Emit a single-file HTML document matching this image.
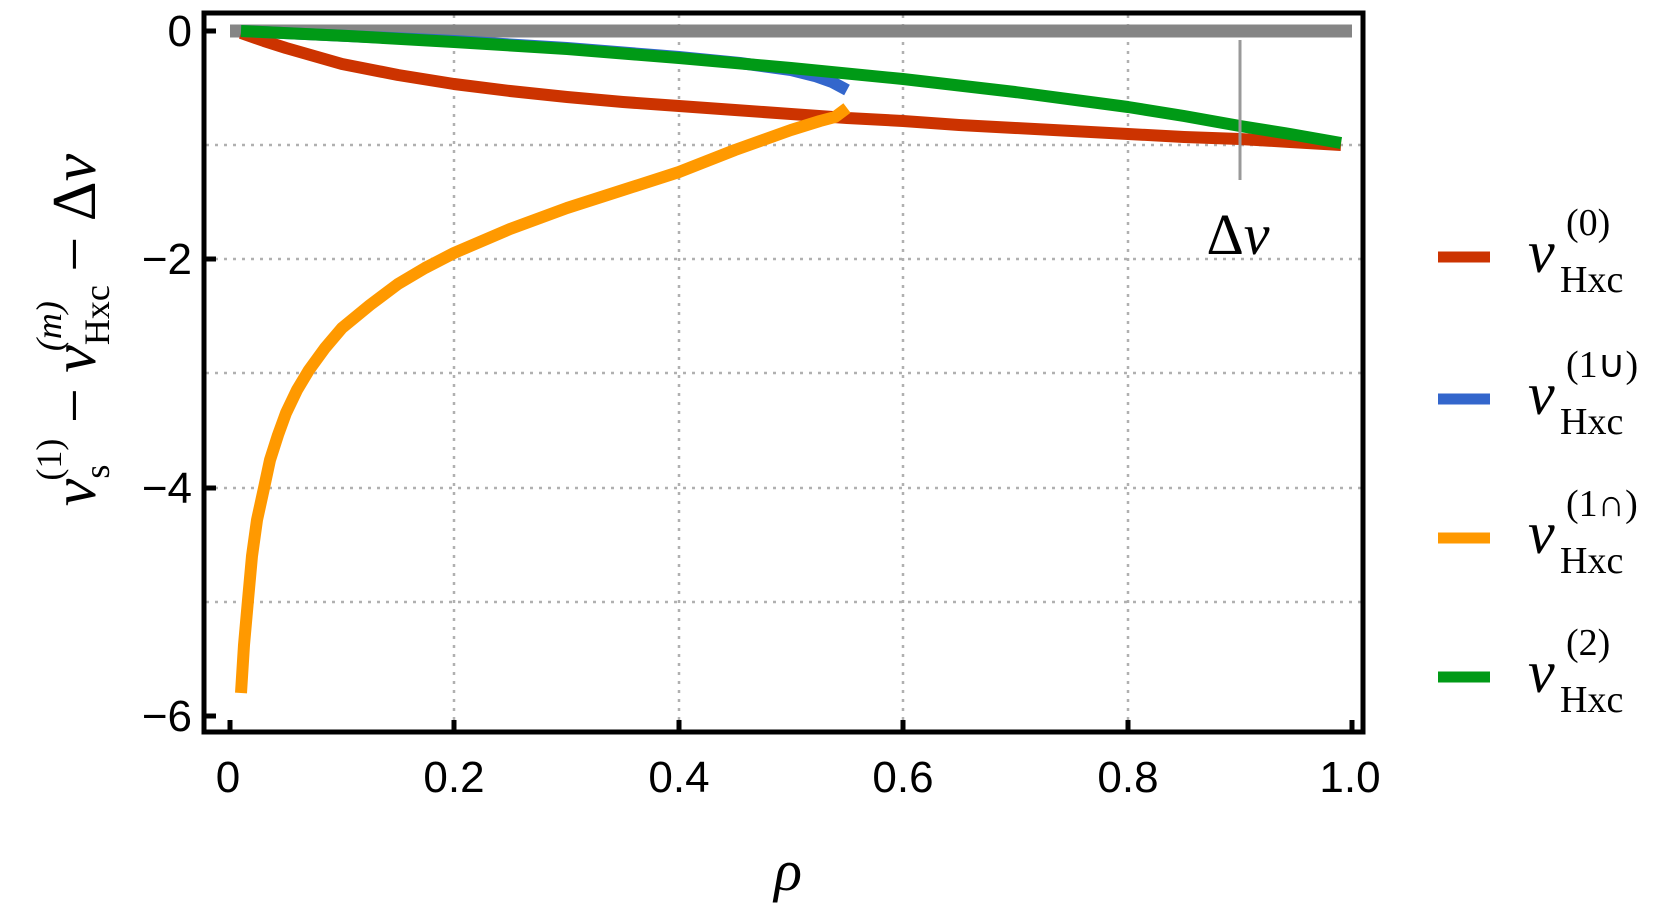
<!DOCTYPE html>
<html><head><meta charset="utf-8"><style>
html,body{margin:0;padding:0;background:#fff;}
svg{display:block}
.t{font-family:"Liberation Sans",sans-serif;font-size:44px;fill:#000}
.m{font-family:"Liberation Serif",serif;fill:#000}
</style></head><body>
<svg width="1661" height="914" viewBox="0 0 1661 914" xmlns="http://www.w3.org/2000/svg">
<g stroke="#b0b0b0" stroke-width="2.5" stroke-dasharray="3,6" fill="none">
<line x1="454" y1="15" x2="454" y2="730"/><line x1="679" y1="15" x2="679" y2="730"/>
<line x1="903" y1="15" x2="903" y2="730"/><line x1="1128" y1="15" x2="1128" y2="730"/>
<line x1="206" y1="145" x2="1361" y2="145"/><line x1="206" y1="259" x2="1361" y2="259"/>
<line x1="206" y1="373" x2="1361" y2="373"/><line x1="206" y1="488" x2="1361" y2="488"/>
<line x1="206" y1="602" x2="1361" y2="602"/>
</g>
<line x1="230" y1="31" x2="1352" y2="31" stroke="#858585" stroke-width="13"/>
<g fill="none" stroke-width="12" stroke-linejoin="round" stroke-linecap="butt">
<polyline stroke="#cc3300" points="241,33 264,41 286,48 314,56 342,64 398,75 454,84 510,91 567,97 623,102 679,106 735,110 791,114 847,118 903,121 959,125 1015,128 1072,131 1128,134 1184,137 1240,139 1290,142 1341,145"/>
<polyline stroke="#3366cc" points="241,31 348,36 454,41 567,48 679,57 740,63 791,70 815,76 832,82 847,90"/>
<polyline stroke="#ff9900" points="847,108 835,117 820,121 791,130 735,150 679,172 623,190 567,208 510,229 454,253 425,268 398,284 370,305 342,328 325,348 309,370 297,390 286,413 278,435 270,460 264,488 257,520 252,556 248,600 244,645 241,693"/>
<polyline stroke="#009a16" points="241,31 348,36 454,42 567,49 679,58 791,68 903,79 1015,92 1128,107 1184,116 1240,126 1290,134 1341,143"/>
</g>
<line x1="1240" y1="40" x2="1240" y2="180" stroke="#999" stroke-width="3"/>
<rect x="204" y="13" width="1159" height="719" fill="none" stroke="#000" stroke-width="5"/>
<g stroke="#000" stroke-width="5">
<line x1="204" y1="31" x2="216" y2="31"/><line x1="204" y1="259" x2="216" y2="259"/>
<line x1="204" y1="488" x2="216" y2="488"/><line x1="204" y1="716" x2="216" y2="716"/>
<line x1="230" y1="732" x2="230" y2="720"/><line x1="454" y1="732" x2="454" y2="720"/>
<line x1="679" y1="732" x2="679" y2="720"/><line x1="903" y1="732" x2="903" y2="720"/>
<line x1="1128" y1="732" x2="1128" y2="720"/><line x1="1352" y1="732" x2="1352" y2="720"/>
</g>
<g class="t" text-anchor="end">
<text x="192" y="46">0</text><text x="192" y="274">−2</text><text x="192" y="503">−4</text><text x="192" y="731">−6</text>
</g>
<g class="t" text-anchor="middle">
<text x="228" y="792">0</text><text x="454" y="792">0.2</text><text x="679" y="792">0.4</text>
<text x="903" y="792">0.6</text><text x="1128" y="792">0.8</text><text x="1350" y="792">1.0</text>
</g>
<text class="m" x="1238" y="254" font-size="58" text-anchor="middle">Δ<tspan font-style="italic">v</tspan></text>
<text class="m" x="788" y="890" font-size="58" font-style="italic" text-anchor="middle">ρ</text>
<g transform="translate(95,330) rotate(-90)" class="m">
<text x="0" y="0" font-size="62" text-anchor="middle"><tspan font-style="italic">v</tspan><tspan font-size="36" dy="14">s</tspan><tspan font-size="36" dy="-48" dx="-16">(1)</tspan><tspan dy="34"> − </tspan><tspan font-style="italic">v</tspan><tspan font-size="36" dy="14">Hxc</tspan><tspan font-size="36" font-style="italic" dy="-48" dx="-66">(m)</tspan><tspan dy="34" dx="14"> − Δ</tspan><tspan font-style="italic">v</tspan></text>
</g>
<g stroke-width="11">
<line x1="1438" y1="257" x2="1490" y2="257" stroke="#cc3300"/>
<line x1="1438" y1="399" x2="1490" y2="399" stroke="#3366cc"/>
<line x1="1438" y1="538" x2="1490" y2="538" stroke="#ff9900"/>
<line x1="1438" y1="677" x2="1490" y2="677" stroke="#009a16"/>
</g>
<g class="m">
<text x="1528" y="272" font-size="60" font-style="italic">v</text><text x="1560" y="292" font-size="38">Hxc</text><text x="1566" y="235" font-size="38">(0)</text>
<text x="1528" y="414" font-size="60" font-style="italic">v</text><text x="1560" y="434" font-size="38">Hxc</text><text x="1566" y="377" font-size="38">(1∪)</text>
<text x="1528" y="553" font-size="60" font-style="italic">v</text><text x="1560" y="573" font-size="38">Hxc</text><text x="1566" y="516" font-size="38">(1∩)</text>
<text x="1528" y="692" font-size="60" font-style="italic">v</text><text x="1560" y="712" font-size="38">Hxc</text><text x="1566" y="655" font-size="38">(2)</text>
</g>
</svg>
</body></html>
